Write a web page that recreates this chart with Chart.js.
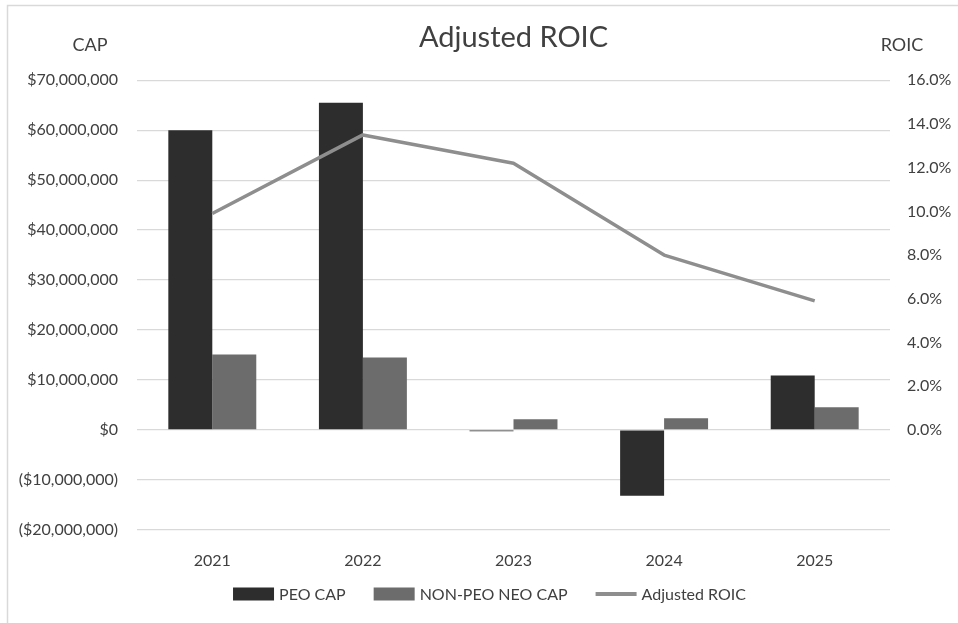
<!DOCTYPE html>
<html>
<head>
<meta charset="utf-8">
<script src="https://cdn.jsdelivr.net/npm/chart.js@4/dist/chart.umd.min.js"></script>
<style>
  html, body { margin: 0; padding: 0; background: #fff; }
  #wrap { position: absolute; left: 0; top: 0; width: 958px; height: 623px; }
</style>
</head>
<body>
<div id="wrap"><canvas id="c" width="958" height="623"></canvas></div>
<script>
// Fiscal years on the category axis
const years = ['2021', '2022', '2023', '2024', '2025'];
// Compensation actually paid (USD)
const peoCap = [60000000, 65500000, -300000, -13200000, 10900000];
const nonPeoCap = [15100000, 14500000, 2100000, 2300000, 4500000];
// Adjusted ROIC (%)
const adjustedRoic = [9.9, 13.5, 12.2, 8.0, 5.9];

const capMin = -20000000, capMax = 70000000, capStep = 10000000;
const roicMax = 16, roicStep = 2;
// keep the zero lines of both axes level
const roicMin = roicMax * capMin / capMax;

const TEXT = '#404040';
const FONT = 'Lato, "Open Sans", sans-serif';

function money(v) {
  const s = '$' + Math.abs(v).toLocaleString('en-US');
  return v < 0 ? '(' + s + ')' : s;
}

// Frame, title, axis captions and legend drawn on the same canvas
const decor = {
  id: 'decor',
  beforeDraw(chart) {
    const ctx = chart.ctx;
    ctx.save();
    ctx.strokeStyle = '#d9d9d9';
    ctx.lineWidth = 1.5;
    ctx.beginPath();
    ctx.moveTo(7.5, 623);
    ctx.lineTo(7.5, 5.5);
    ctx.lineTo(958, 5.5);
    ctx.stroke();
    ctx.restore();
  },
  afterDraw(chart) {
    const ctx = chart.ctx;
    const area = chart.chartArea;
    ctx.save();
    ctx.fillStyle = TEXT;
    ctx.textBaseline = 'middle';
    ctx.textAlign = 'center';
    ctx.font = '29px ' + FONT;
    ctx.fillText('Adjusted ROIC', (area.left + area.right) / 2, 38);
    ctx.font = '18px ' + FONT;
    ctx.fillText('CAP', 90, 45);
    ctx.fillText('ROIC', 902, 45);

    // legend
    ctx.font = '16px ' + FONT;
    const items = chart.data.datasets.map(ds => ({
      label: ds.label,
      color: ds.type === 'line' ? ds.borderColor : ds.backgroundColor,
      line: ds.type === 'line'
    }));
    const sw = 41, gapIn = 5, gapOut = 28;
    let total = 0;
    items.forEach((it, i) => {
      it.w = sw + gapIn + ctx.measureText(it.label).width;
      total += it.w + (i ? gapOut : 0);
    });
    let x = 489.5 - total / 2;
    const y = 594;
    ctx.textAlign = 'left';
    items.forEach(it => {
      if (it.line) {
        ctx.strokeStyle = it.color;
        ctx.lineWidth = 4;
        ctx.beginPath();
        ctx.moveTo(x, y);
        ctx.lineTo(x + sw, y);
        ctx.stroke();
      } else {
        ctx.fillStyle = it.color;
        ctx.fillRect(x, y - 6.5, sw, 13);
      }
      ctx.fillStyle = TEXT;
      ctx.fillText(it.label, x + sw + gapIn, y + 1);
      x += it.w + gapOut;
    });
    ctx.restore();
  }
};

new Chart(document.getElementById('c'), {
  data: {
    labels: years,
    datasets: [
      { type: 'bar', label: 'PEO CAP', data: peoCap, backgroundColor: '#2d2d2d',
        yAxisID: 'y', order: 1, categoryPercentage: 0.584, barPercentage: 1 },
      { type: 'bar', label: 'NON-PEO NEO CAP', data: nonPeoCap, backgroundColor: '#6c6c6c',
        yAxisID: 'y', order: 1, categoryPercentage: 0.584, barPercentage: 1 },
      { type: 'line', label: 'Adjusted ROIC', data: adjustedRoic, borderColor: '#8e8e8e',
        backgroundColor: '#8e8e8e', borderWidth: 3.5, pointRadius: 0, tension: 0,
        borderJoinStyle: 'round', yAxisID: 'y1', order: 0 }
    ]
  },
  options: {
    responsive: false,
    animation: false,
    layout: { padding: { top: 80.3, bottom: 0, left: 0, right: 0 } },
    plugins: { legend: { display: false }, tooltip: { enabled: false }, title: { display: false } },
    scales: {
      x: {
        grid: { display: false },
        border: { display: false },
        ticks: { color: TEXT, font: { family: FONT, size: 16 }, padding: 14 },
        afterFit(s) { s.height = 93.3; }
      },
      y: {
        position: 'left',
        min: capMin, max: capMax,
        grid: { color: '#d9d9d9', lineWidth: 1.3, drawTicks: false },
        border: { display: false },
        ticks: { stepSize: capStep, color: TEXT, font: { family: FONT, size: 16 }, padding: 19,
          callback: v => money(v) },
        afterFit(s) { s.width = 137; }
      },
      y1: {
        position: 'right',
        min: roicMin, max: roicMax,
        grid: { display: false, drawTicks: false },
        border: { display: false },
        ticks: { stepSize: roicStep, color: TEXT, font: { family: FONT, size: 16 }, padding: 17,
          callback: v => v.toFixed(1) + '%' },
        afterBuildTicks(s) { s.ticks = s.ticks.filter(t => t.value >= -1e-9); },
        afterFit(s) { s.width = 68; }
      }
    }
  },
  plugins: [decor]
});
</script>
</body>
</html>
